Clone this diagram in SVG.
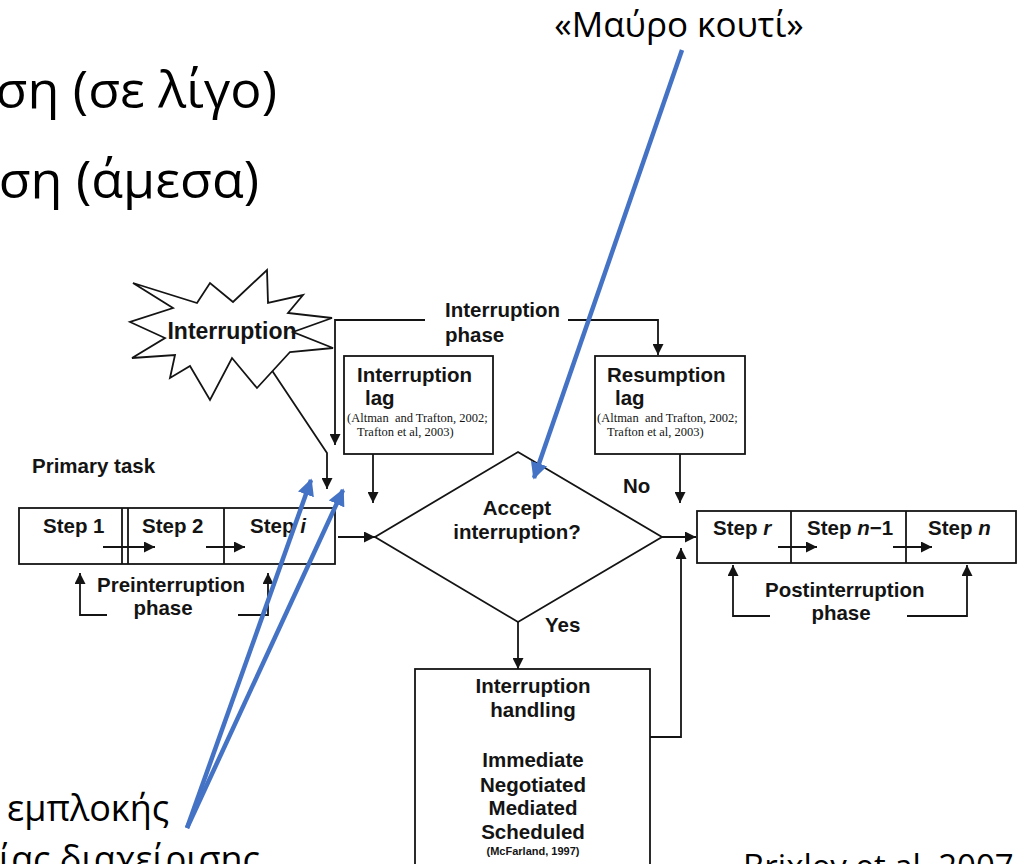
<svg xmlns="http://www.w3.org/2000/svg" width="1023" height="864" viewBox="0 0 1023 864">
<style>
.ln{fill:none;stroke:#141414;stroke-width:1.8}
.bx{fill:#fff;stroke:#141414;stroke-width:1.8}
.b{font-family:"Liberation Sans",Arial,sans-serif;font-weight:bold;font-size:20.5px;fill:#141414}
.c{font-family:"Liberation Serif","Times New Roman",serif;font-size:12.5px;fill:#141414;white-space:pre}
.g{font-family:"Open Sans","Noto Sans",sans-serif;fill:#000}
.bl{fill:none;stroke:#4472C4;stroke-width:4.5}
</style>
<defs>
<marker id="ah" viewBox="0 0 10 10" refX="10" refY="5" markerWidth="11" markerHeight="11" markerUnits="userSpaceOnUse" orient="auto"><path d="M0,0 L10,5 L0,10 z" fill="#141414"/></marker>
<marker id="bh" viewBox="0 0 10 10" refX="9" refY="5" markerWidth="17" markerHeight="17" markerUnits="userSpaceOnUse" orient="auto"><path d="M0,0 L10,5 L0,10 z" fill="#4472C4"/></marker>
</defs>
<rect width="1023" height="864" fill="#fff"/>

<g id="headings">
<text class="g" x="277" y="108" style="font-size:52px" text-anchor="end">ση (σε λίγο)</text>
<text class="g" x="259" y="198" style="font-size:52px" text-anchor="end">ση (άμεσα)</text>
<text class="g" x="679" y="37" style="font-size:35px" text-anchor="middle">«Μαύρο κουτί»</text>
<text class="g" x="7" y="821" style="font-size:36px">εμπλοκής</text>
<text class="g" x="260" y="872" style="font-size:36px" text-anchor="end">σίας διαχείρισης</text>
<text class="g" x="743" y="878" style="font-size:33px">Brixley et al. 2007</text>
</g>

<g id="connectors">
<path class="ln" d="M263,357 L327,453 V489" marker-end="url(#ah)"/>
<path class="ln" d="M425,320 H335 V445" marker-end="url(#ah)"/>
<path class="ln" d="M568,320 H658 V355" marker-end="url(#ah)"/>
<path class="ln" d="M373,454 V503" marker-end="url(#ah)"/>
<path class="ln" d="M680,454 V503" marker-end="url(#ah)"/>
<path class="ln" d="M338,537 H375" marker-end="url(#ah)"/>
<path class="ln" d="M662,537 H696" marker-end="url(#ah)"/>
<path class="ln" d="M518,622 V669" marker-end="url(#ah)"/>
<path class="ln" d="M648,737 H681 V548" marker-end="url(#ah)"/>
<path class="ln" d="M103,547 H155" marker-end="url(#ah)"/>
<path class="ln" d="M206,547 H245" marker-end="url(#ah)"/>
<path class="ln" d="M778,547 H817" marker-end="url(#ah)"/>
<path class="ln" d="M893,547 H932" marker-end="url(#ah)"/>
<path class="ln" d="M107,615 H80 V573" marker-end="url(#ah)"/>
<path class="ln" d="M238,615 H268 V573" marker-end="url(#ah)"/>
<path class="ln" d="M770,616 H733 V565" marker-end="url(#ah)"/>
<path class="ln" d="M907,616 H967 V565" marker-end="url(#ah)"/>
</g>

<g id="interruption-star">
<polygon class="bx" points="133,283 197,303 210,283 233,302 267,270 268,303 303,295 288,313 332,318 293,332 333,348 290,352 257,388 232,358 210,400 190,366 170,378 175,355 132,358 165,338 130,322 173,308"/>
<text class="b" x="232" y="339" style="font-size:23px" text-anchor="middle">Interruption</text>
</g>

<g id="interruption-phase">
<text class="b" x="445" y="317">Interruption</text>
<text class="b" x="445" y="342">phase</text>
</g>

<g id="interruption-lag">
<rect class="bx" x="344" y="356" width="149" height="98"/>
<text class="b" x="357" y="382">Interruption</text>
<text class="b" x="365" y="405">lag</text>
<text class="c" x="347" y="422">(Altman  and Trafton, 2002;</text>
<text class="c" x="357" y="436">Trafton et al, 2003)</text>
</g>

<g id="resumption-lag">
<rect class="bx" x="595" y="356" width="150" height="98"/>
<text class="b" x="607" y="382">Resumption</text>
<text class="b" x="615" y="405">lag</text>
<text class="c" x="597" y="422">(Altman  and Trafton, 2002;</text>
<text class="c" x="607" y="436">Trafton et al, 2003)</text>
</g>

<g id="primary-task">
<text class="b" x="32" y="473">Primary task</text>
<rect class="ln" x="19" y="508" width="316" height="56"/>
<line class="ln" x1="122" y1="508" x2="122" y2="564"/>
<line class="ln" x1="128" y1="508" x2="128" y2="564"/>
<line class="ln" x1="224" y1="508" x2="224" y2="564"/>
<text class="b" x="43" y="533">Step 1</text>
<text class="b" x="142" y="533">Step 2</text>
<text class="b" x="250" y="533">Step <tspan font-style="italic">i</tspan></text>
<text class="b" x="97" y="592">Preinterruption</text>
<text class="b" x="163" y="615" text-anchor="middle">phase</text>
</g>

<g id="decision">
<polygon class="bx" points="518,452 662,537 518,622 375,537"/>
<text class="b" x="517" y="515" text-anchor="middle">Accept</text>
<text class="b" x="517" y="539" text-anchor="middle">interruption?</text>
<text class="b" x="623" y="493">No</text>
<text class="b" x="545" y="632">Yes</text>
</g>

<g id="post-steps">
<rect class="ln" x="697" y="511" width="319" height="52"/>
<line class="ln" x1="791" y1="511" x2="791" y2="563"/>
<line class="ln" x1="906" y1="511" x2="906" y2="563"/>
<text class="b" x="713" y="535">Step <tspan font-style="italic">r</tspan></text>
<text class="b" x="807" y="535">Step <tspan font-style="italic">n</tspan>−1</text>
<text class="b" x="928" y="535">Step <tspan font-style="italic">n</tspan></text>
<text class="b" x="765" y="597">Postinterruption</text>
<text class="b" x="841" y="620" text-anchor="middle">phase</text>
</g>

<g id="interruption-handling">
<rect class="bx" x="415" y="669" width="235" height="220"/>
<text class="b" x="533" y="693" text-anchor="middle">Interruption</text>
<text class="b" x="533" y="717" text-anchor="middle">handling</text>
<text class="b" x="533" y="767" text-anchor="middle">Immediate</text>
<text class="b" x="533" y="792" text-anchor="middle">Negotiated</text>
<text class="b" x="533" y="815" text-anchor="middle">Mediated</text>
<text class="b" x="533" y="839" text-anchor="middle">Scheduled</text>
<text class="b" x="533" y="855" style="font-size:11px" text-anchor="middle">(McFarland, 1997)</text>
</g>

<g id="blue-arrows">
<line class="bl" x1="682" y1="50" x2="534" y2="478" marker-end="url(#bh)"/>
<line class="bl" x1="187" y1="828" x2="311" y2="480" marker-end="url(#bh)"/>
<line class="bl" x1="187" y1="828" x2="343" y2="490" marker-end="url(#bh)"/>
</g>
</svg>
